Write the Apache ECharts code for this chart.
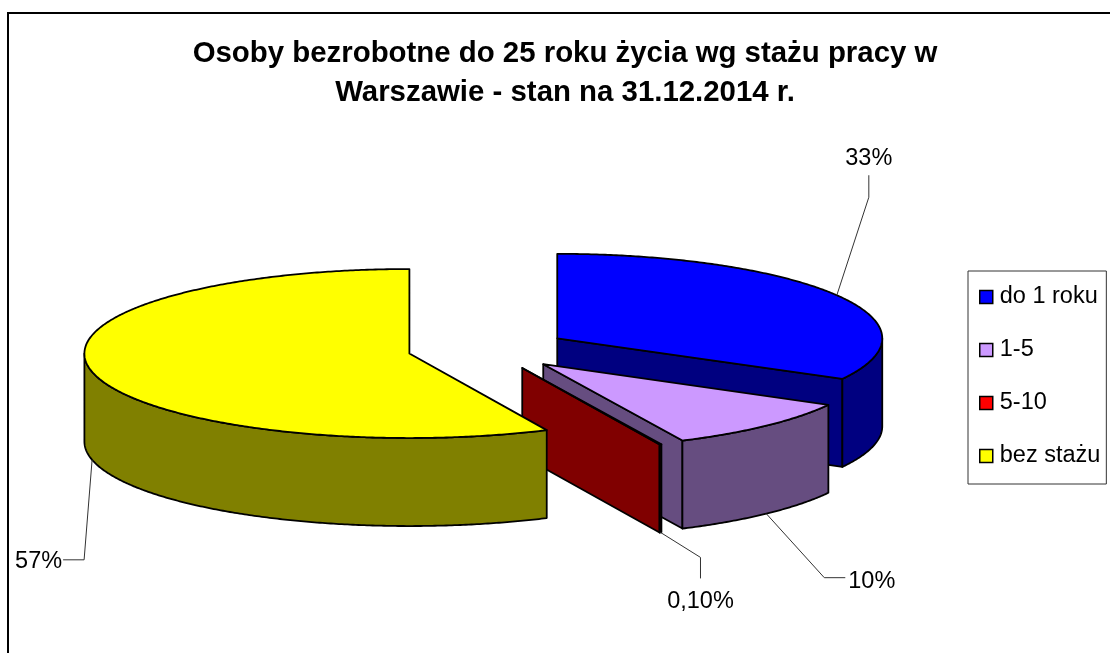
<!DOCTYPE html>
<html><head><meta charset="utf-8">
<style>html,body{margin:0;padding:0;background:#fff}#c{width:1110px;height:653px}</style>
<script src="https://cdn.jsdelivr.net/npm/echarts@6/dist/echarts.min.js"></script>
</head><body><div id="c"></div>
<script>
// Data
const categories = ['do 1 roku', '1-5', '5-10', 'bez stażu'];
const shares = [33, 10, 0.1, 57];
const pctLabels = ['33%', '10%', '0,10%', '57%'];
const titleLines = ['Osoby bezrobotne do 25 roku życia wg stażu pracy w', 'Warszawie - stan na 31.12.2014 r.'];

// Styles
const topColors = ['#0000FF', '#CC99FF', '#FF0000', '#FFFF00'];
const sideColors = ['#000080', '#664D80', '#800000', '#808000'];
const FONT = '"Liberation Sans", Arial, sans-serif';

// Pie model: ellipse projected pie, each slice exploded along its mid angle
const PIE = { cx: 488, cy: 349, rx: 325, ry: 84.5, depth: 88, explode: 80.5 };
// Leader geometry: offsets from the anchor on the slice edge
const leaders = [
  { onWall: false, bend: [32, -98], end: [32, -120], text: [32, -137], align: 'center' },
  { onWall: true, bend: [58, 64], end: [79, 64], text: [82, 68], align: 'left' },
  { onWall: true, bend: [40, 25], end: [40, 46], text: [40, 69], align: 'center' },
  { onWall: true, bend: [-8, 100], end: [-29, 100], text: [-30, 102], align: 'right' }
];

const total = shares.reduce((a, b) => a + b, 0);
const deg = Math.PI / 180;
function sliceAngles(i) {
  let s = 0;
  for (let k = 0; k < i; k++) s += shares[k];
  return [s / total * 360, (s + shares[i]) / total * 360];
}
function renderSlice(i) {
  const [a0, a1] = sliceAngles(i);
  const mid = (a0 + a1) / 2 * deg;
  const ax = PIE.cx + PIE.explode * Math.sin(mid);
  const ay = PIE.cy - PIE.explode * Math.cos(mid) * PIE.ry / PIE.rx;
  const pt = (a, dy) => [ax + PIE.rx * Math.sin(a * deg), ay - PIE.ry * Math.cos(a * deg) + (dy || 0)];
  const arc = (from, to, dy) => {
    const out = [];
    const n = Math.max(1, Math.ceil(Math.abs(to - from) * 2));
    for (let k = 0; k <= n; k++) out.push(pt(from + (to - from) * k / n, dy));
    return out;
  };
  const stroke = { stroke: '#000', lineWidth: 1.8, lineJoin: 'round' };
  const side = Object.assign({ fill: sideColors[i] }, stroke);
  const children = [];
  const face = a => ({
    type: 'polygon',
    shape: { points: [[ax, ay], pt(a), pt(a, PIE.depth), [ax, ay + PIE.depth]] },
    style: side
  });
  // cut faces turned to the viewer
  if (Math.sin(a0 * deg) < -1e-6) children.push(face(a0));
  if (Math.sin(a1 * deg) > 1e-6) children.push(face(a1));
  // outer wall: front half only
  const w0 = Math.max(a0, 90), w1 = Math.min(a1, 270);
  if (w1 > w0) {
    children.push({
      type: 'polygon',
      shape: { points: arc(w0, w1, 0).concat(arc(w1, w0, PIE.depth)) },
      style: side
    });
  }
  // top face
  children.push({
    type: 'polygon',
    shape: { points: [[ax, ay]].concat(arc(a0, a1, 0)) },
    style: Object.assign({ fill: topColors[i] }, stroke)
  });
  // leader and label
  const L = leaders[i];
  const an = pt((a0 + a1) / 2, L.onWall ? PIE.depth : 0);
  children.push({
    type: 'polyline',
    shape: { points: [an, [an[0] + L.bend[0], an[1] + L.bend[1]], [an[0] + L.end[0], an[1] + L.end[1]]] },
    style: { stroke: '#333', lineWidth: 1, fill: null }
  });
  children.push({
    type: 'text',
    style: {
      text: pctLabels[i], x: an[0] + L.text[0], y: an[1] + L.text[1],
      font: '23.5px ' + FONT, fill: '#000', align: L.align, verticalAlign: 'middle'
    }
  });
  return { type: 'group', children };
}

const series = categories.map((name, i) => ({
  type: 'custom',
  name,
  coordinateSystem: 'none',
  silent: true,
  z: 2 + i,
  itemStyle: { color: topColors[i] },
  data: [[shares[i]]],
  renderItem: () => renderSlice(i)
}));

const chart = echarts.init(document.getElementById('c'), null, { renderer: 'canvas' });
chart.setOption({
  animation: false,
  backgroundColor: '#fff',
  title: {
    text: titleLines.join('\n'),
    left: 560, top: 29, textAlign: 'center',
    textStyle: { fontFamily: FONT, fontWeight: 'bold', fontSize: 29.4, lineHeight: 39, color: '#000' }
  },
  legend: {
    orient: 'vertical',
    left: 968, top: 271,
    padding: [14, 6, 16, 11],
    itemWidth: 13, itemHeight: 13, itemGap: 29,
    icon: 'rect',
    borderColor: '#333', borderWidth: 1, backgroundColor: '#fff',
    selectedMode: false,
    data: categories.map((name, i) => ({
      name, itemStyle: { color: topColors[i], borderColor: '#000', borderWidth: 1.5 }
    })),
    textStyle: { fontFamily: FONT, fontSize: 23.5, color: '#000', padding: [0, 0, 0, 2] }
  },
  graphic: [{
    type: 'rect', silent: true, z: 0,
    shape: { x: 8, y: 13, width: 1300, height: 900 },
    style: { fill: '#fff', stroke: '#000', lineWidth: 2 }
  }],
  series
});
</script></body></html>
